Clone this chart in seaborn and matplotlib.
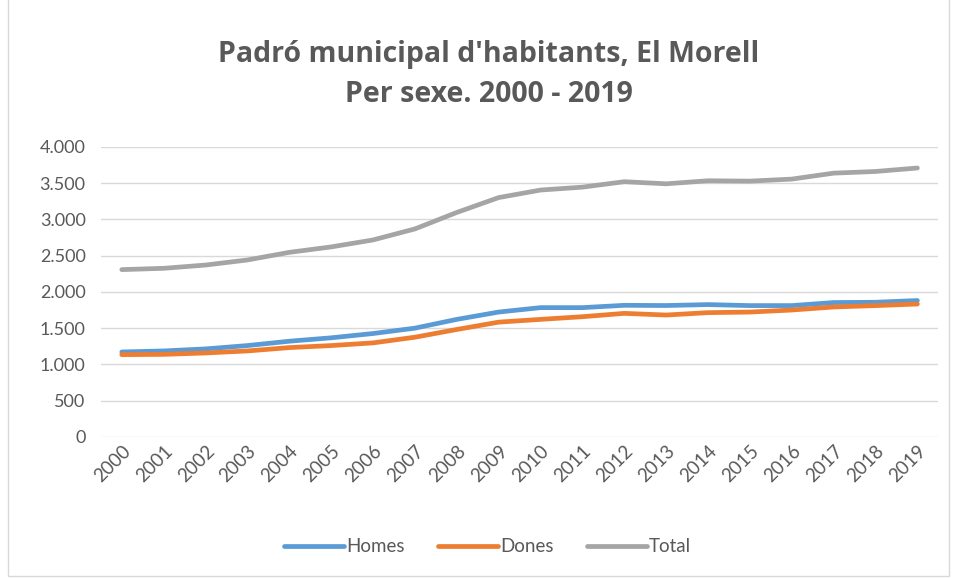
import matplotlib.pyplot as plt
from matplotlib.patches import Rectangle
from matplotlib.ticker import FuncFormatter
import pandas as pd
import seaborn as sns

years = [str(y) for y in range(2000, 2020)]
homes = [1172, 1186, 1214, 1260, 1320, 1367, 1426, 1500, 1621, 1722,
         1783, 1783, 1815, 1812, 1825, 1811, 1811, 1853, 1857, 1881]
dones = [1135, 1139, 1158, 1186, 1232, 1260, 1297, 1375, 1482, 1583,
         1621, 1658, 1704, 1681, 1714, 1722, 1750, 1792, 1811, 1833]
total = [2307, 2325, 2370, 2440, 2545, 2620, 2716, 2868, 3095, 3300,
         3404, 3444, 3519, 3490, 3532, 3527, 3555, 3637, 3660, 3708]

df = pd.DataFrame({'Any': years, 'Homes': homes, 'Dones': dones, 'Total': total})
long_df = df.melt(id_vars='Any', var_name='Sexe', value_name='Habitants')

sns.set_style('white')
plt.rcParams['font.family'] = ['Lato', 'DejaVu Sans']

palette = {'Homes': '#5B9BD5', 'Dones': '#ED7D31', 'Total': '#A5A5A5'}

fig = plt.figure(figsize=(9.56, 5.78), dpi=100)
ax = fig.add_axes([0.1055, 0.244, 0.876, 0.502])

sns.lineplot(data=long_df, x='Any', y='Habitants', hue='Sexe', palette=palette,
             linewidth=3.4, solid_capstyle='round', ax=ax, legend=True)

ax.set_xlim(-0.5, 19.5)
ax.set_ylim(0, 4000)
ax.set_yticks(range(0, 4001, 500))
ax.yaxis.set_major_formatter(FuncFormatter(lambda v, p: f'{int(v):,}'.replace(',', '.')))
ax.grid(axis='y', color='#D9D9D9', linewidth=1)
ax.set_axisbelow(True)
for s in ax.spines.values():
    s.set_visible(False)
ax.tick_params(axis='y', length=0, labelsize=13, labelcolor='#595959', pad=11)
ax.tick_params(axis='x', length=0, labelsize=13.5, labelcolor='#595959', pad=4)
plt.setp(ax.get_xticklabels(), rotation=45, ha='right', rotation_mode='anchor')
ax.set_xlabel('')
ax.set_ylabel('')

handles, labels = ax.get_legend_handles_labels()
ax.legend(handles, labels, loc='center', bbox_to_anchor=(0.51, 0.054),
          bbox_transform=fig.transFigure, ncol=3, frameon=False,
          fontsize=13.5, labelcolor='#595959', handlelength=3.2,
          handletextpad=0.1, columnspacing=1.8)

fig.text(0.511, 0.905, "Padró municipal d'habitants, El Morell", ha='center', va='center',
         fontsize=20.5, fontweight='bold', color='#595959', family='Open Sans')
fig.text(0.511, 0.836, 'Per sexe. 2000 - 2019', ha='center', va='center',
         fontsize=20.5, fontweight='bold', color='#595959', family='Open Sans')

fig.patches.append(Rectangle((0.008, 0.004), 0.985, 1.2, transform=fig.transFigure,
                             fill=False, edgecolor='#D9D9D9', linewidth=1))

fig.savefig('out.png', dpi=100)
